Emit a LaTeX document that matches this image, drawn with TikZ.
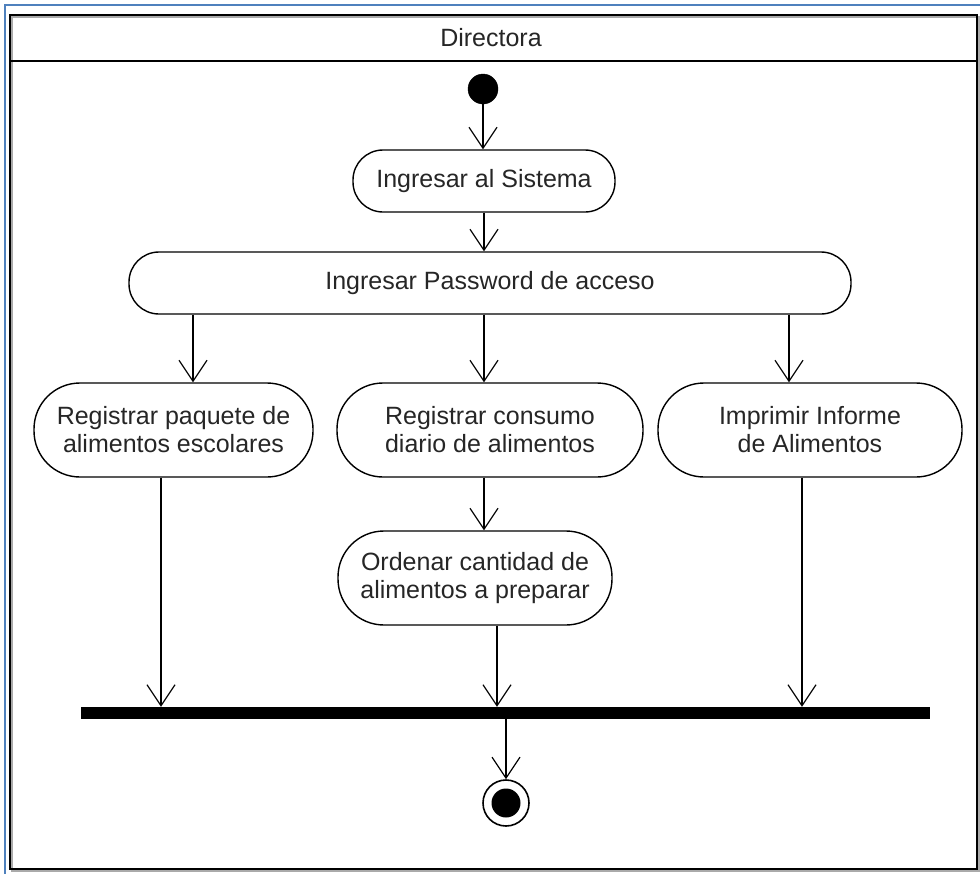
\documentclass[tikz,border=0pt]{standalone}
\usepackage{fontspec}
\setmainfont{Liberation Sans}
\usetikzlibrary{arrows.meta}

\definecolor{pageblue}{RGB}{79,129,189}
\definecolor{framegray}{RGB}{170,170,170}

\begin{document}
\begin{tikzpicture}[x=1pt,y=-1pt,
  label font/.style={font=\fontsize{25}{28}\selectfont},
  act/.style={draw=black, line width=1.4pt, fill=white, align=center,
    label font, inner sep=0pt, text=black!85},
  shortact/.style={act, minimum height=62pt, rounded corners=30pt},
  tallact/.style={act, minimum height=94pt, rounded corners=46pt},
  flow/.style={line width=1.2pt,
    -{Straight Barb[length=21pt, width=28pt, line width=1.2pt]}},
  startdot/.style={circle, fill=black, draw=black, minimum size=30pt, inner sep=0pt},
  joinbar/.style={rectangle, fill=black, minimum width=849pt, minimum height=12pt, inner sep=0pt}
]
\useasboundingbox (0,0) rectangle (980,873);
\fill[white] (0,0) rectangle (980,873);

% page border
\draw[pageblue, line width=1.6pt] (5,5) rectangle (995,890);

% swimlane frame with a soft shadow
\draw[draw=framegray, line width=1.5pt] (12,17) rectangle (979,871);
\draw[black, line width=1.8pt] (10,15) rectangle (977,869);
\draw[black, line width=1.8pt] (10,61) -- (977,61);
\node[label font, text=black!85] (lane) at (491,38) {Directora};

% column positions of the flows
\coordinate (cA) at (193,0);
\coordinate (cB) at (484,0);
\coordinate (cC) at (789,0);
\coordinate (dA) at (161,0);
\coordinate (dB) at (497,0);
\coordinate (dC) at (802,0);
\coordinate (dE) at (506,0);

% nodes
\node[startdot] (start) at (483,89) {};
\node[shortact, minimum width=262pt] (sis) at (484,181) {Ingresar al Sistema};
\node[shortact, minimum width=722pt] (pw) at (490,283) {Ingresar Password de acceso};
\node[tallact, minimum width=279pt] (paq) at (173.5,430) {Registrar paquete de\\alimentos escolares};
\node[tallact, minimum width=306pt] (cons) at (490,430) {Registrar consumo\\diario de alimentos};
\node[tallact, minimum width=304pt] (inf) at (810,430) {Imprimir Informe\\de Alimentos};
\node[tallact, minimum width=274pt] (ord) at (475,578) {Ordenar cantidad de\\alimentos a preparar};
\node[joinbar] (bar) at (505.5,713) {};
\node[circle, draw=black, line width=1.6pt, fill=white, minimum size=46pt, inner sep=0pt] (end) at (506,803) {};
\node[circle, fill=black, minimum size=29pt, inner sep=0pt] (endcore) at (end.center) {};

% flows
\draw[flow] (start.south) -- (sis.north -| start);
\draw[flow] (sis.south -| cB) -- (pw.north -| cB);
\draw[flow] (pw.south -| cA) -- (paq.north -| cA);
\draw[flow] (pw.south -| cB) -- (cons.north -| cB);
\draw[flow] (pw.south -| cC) -- (inf.north -| cC);
\draw[flow] (cons.south -| cB) -- (ord.north -| cB);
\draw[flow] (paq.south -| dA) -- (bar.north -| dA);
\draw[flow] (ord.south -| dB) -- (bar.north -| dB);
\draw[flow] (inf.south -| dC) -- (bar.north -| dC);
\draw[flow] (bar.south -| dE) -- (end.north);
\end{tikzpicture}
\end{document}
